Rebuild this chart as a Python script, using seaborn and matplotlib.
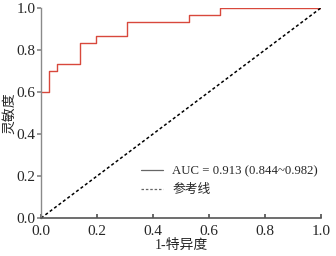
import matplotlib
matplotlib.use("Agg")
import matplotlib.pyplot as plt
from matplotlib.lines import Line2D
import seaborn as sns
import pandas as pd

# ROC curve points
fpr = [0.0, 0.030, 0.058, 0.139, 0.196, 0.306, 0.529, 0.638, 1.0]
tpr = [0.600, 0.700, 0.733, 0.833, 0.867, 0.933, 0.967, 1.000, 1.0]
ref_x = [0.0, 1.0]
ref_y = [0.0, 1.0]
ticks = [0.0, 0.2, 0.4, 0.6, 0.8, 1.0]
auc_label = "AUC = 0.913 (0.844~0.982)"
ref_label = "参考线"

sns.set_theme(style="ticks")
plt.rcParams["font.family"] = ["Liberation Serif", "Noto Sans CJK SC"]
plt.rcParams["axes.unicode_minus"] = False

df = pd.DataFrame({"fpr": fpr, "tpr": tpr})

fig = plt.figure(figsize=(3.36, 2.56), dpi=100)
ax = fig.add_axes([0.122, 0.148, 0.833, 0.821])

sns.lineplot(data=df, x="fpr", y="tpr", estimator=None, sort=False,
             drawstyle="steps-post", color="#d8483c", linewidth=1.0, ax=ax)
ax.plot(ref_x, ref_y, color="black", linestyle=(0, (2, 1.6)), linewidth=1.1)

ax.set_xlim(0, 1.0)
ax.set_ylim(0, 1.0)
ax.set_xticks(ticks)
ax.set_yticks(ticks)
ax.set_xticklabels([f"{t:.1f}" for t in ticks])
ax.set_yticklabels([f"{t:.1f}" for t in ticks])
ax.set_xlabel("1-特异度", fontsize=10)
ax.set_ylabel("灵敏度", fontsize=10)
ax.xaxis.set_label_coords(0.5, -0.1)
ax.yaxis.set_label_coords(-0.09, 0.5)

sns.despine(ax=ax)
ax.spines["left"].set_color("#8a8a8a")
ax.spines["bottom"].set_color("#555555")
ax.spines["left"].set_linewidth(1.0)
ax.spines["bottom"].set_linewidth(1.2)
ax.tick_params(axis="x", direction="in", length=3, color="#555555",
               labelsize=11, pad=5)
ax.tick_params(axis="y", direction="out", length=3, color="#8a8a8a",
               labelsize=11, pad=1)

handles = [Line2D([0], [0], color="#666666", linewidth=0.9),
           Line2D([0], [0], color="#666666", linewidth=0.9, linestyle=(0, (2, 1.5)))]
ax.legend(handles, [auc_label, ref_label], loc="lower right",
          bbox_to_anchor=(1.03, 0.05), frameon=False, fontsize=9.2,
          handlelength=1.7, handletextpad=0.7, labelspacing=0.55)

fig.savefig("out.png", dpi=100)
